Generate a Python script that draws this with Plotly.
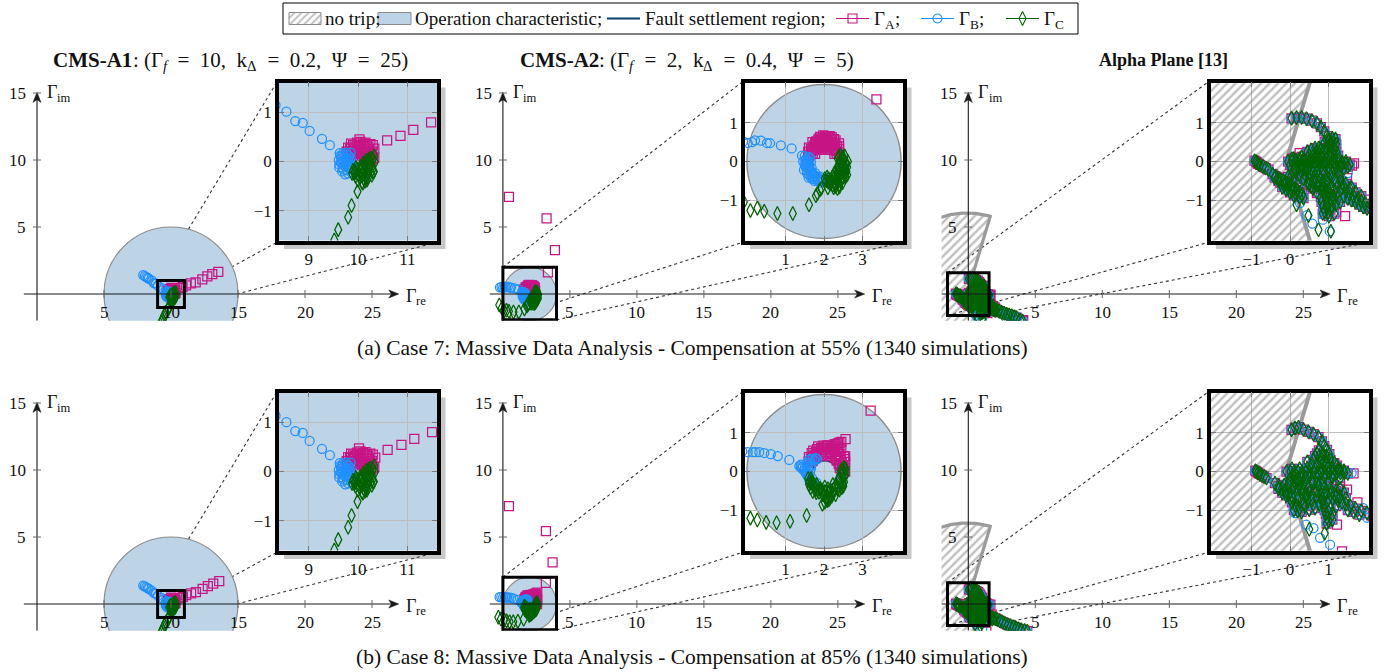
import numpy as np
import plotly.graph_objects as go

W, H = 1385, 672
PX = 13.4          # pixels per unit on the overview panels
ROW_SHIFT = 310    # vertical offset of the second row (px)

MAGENTA = "#C71585"
BLUE = "#1E90FF"
GREEN = "#006400"
NAVY = "#0B3C6E"
CHAR_FILL = "#BDD4E7"
CHAR_EDGE = "#8C8C8C"
HATCH = "#7F7F7F"
SERIF = "Liberation Serif"
INK = "#111"

# ---------------------------------------------------------------- data
MAIN_XTICKS = [5, 10, 15, 20, 25]
MAIN_YTICKS = [5, 10, 15]

# CMS-A1, case 7
A1_C7_GA = [(13.53, 1.66), (13.08, 1.49), (12.71, 1.32), (12.34, 1.10), (11.84, 0.87), (11.48, 0.79),
            (11.12, 0.64), (10.86, 0.52), (10.59, 0.43), (10.33, 0.26), (10.03, 0.45),
            (10.16, 0.02), (10.14, 0.10), (10.10, 0.16), (10.03, 0.19), (9.95, 0.20), (9.88, 0.17), (9.82, 0.11),
            (10.26, 0.02), (10.24, 0.12), (10.19, 0.20), (10.12, 0.26), (10.03, 0.30), (9.93, 0.30), (9.84, 0.26),
            (9.77, 0.20), (10.33, 0.08), (10.29, 0.20), (10.21, 0.30), (10.10, 0.36), (9.98, 0.38), (9.86, 0.36),
            (10.30, 0.33), (10.18, 0.34), (10.06, 0.33), (9.92, 0.24), (10.22, 0.25),
            (10.12, 0.04), (10.08, 0.12), (10.00, 0.16), (9.92, 0.15), (9.86, 0.09), (10.20, 0.06), (10.16, 0.15),
            (10.09, 0.21), (9.98, 0.24), (9.87, 0.21), (9.80, 0.15), (10.30, 0.05), (10.27, 0.16), (10.21, 0.25),
            (10.12, 0.31), (10.01, 0.34), (9.90, 0.33), (9.80, 0.28), (10.05, 0.40), (10.15, 0.38), (10.25, 0.35)]
A1_C7_GB = [(7.93, 1.40), (8.04, 1.33), (8.15, 1.26), (8.26, 1.20), (8.33, 1.14), (8.55, 1.01), (8.73, 0.82),
            (8.88, 0.78), (9.02, 0.62), (9.27, 0.46), (9.43, 0.33), (9.63, 0.17), (9.61, 0.03), (9.62, -0.12),
            (9.66, 0.10), (9.82, 0.11), (9.80, 0.02), (9.82, -0.07), (9.89, -0.14), (9.72, 0.12), (9.70, 0.02),
            (9.72, -0.08), (9.78, -0.18), (9.88, -0.24), (9.66, 0.06), (9.66, -0.04), (9.70, -0.16), (9.76, 0.18),
            (9.75, -0.02), (9.77, 0.07), (9.80, -0.12), (9.85, 0.18),
            (9.85, 0.07), (9.84, 0.00), (9.87, -0.07), (9.79, 0.13), (9.76, 0.04), (9.77, -0.06), (9.84, -0.15),
            (9.69, 0.16), (9.66, -0.01), (9.69, -0.12), (9.80, -0.24), (9.64, 0.12), (9.62, -0.06), (9.68, -0.20),
            (9.74, -0.26)]
A1_C7_GC = [(9.30, -2.05), (9.38, -1.90), (9.45, -1.75), (9.52, -1.59), (9.60, -1.38), (9.80, -1.13),
            (9.87, -0.89), (9.99, -0.61), (9.98, -0.16), (10.07, -0.14), (10.14, -0.07), (10.16, 0.02),
            (9.88, -0.24), (10.00, -0.26), (10.12, -0.22), (10.21, -0.14), (10.26, -0.03), (10.26, 0.07),
            (10.04, -0.33), (10.19, -0.27), (10.29, -0.16), (10.34, -0.01), (10.33, 0.11), (10.12, -0.35),
            (10.18, -0.38), (10.08, -0.42), (9.90, -0.18), (10.31, -0.22), (10.22, 0.05), (10.05, -0.20),
            (9.94, -0.22), (10.15, -0.30), (10.23, -0.06),
            (9.96, -0.12), (10.05, -0.10), (10.11, -0.03), (9.94, -0.20), (10.04, -0.19), (10.12, -0.15),
            (10.18, -0.07), (10.20, 0.02), (9.95, -0.30), (10.09, -0.28), (10.21, -0.21), (10.28, -0.09),
            (10.30, 0.05), (10.00, -0.38), (10.10, -0.44), (10.20, -0.33), (10.28, -0.28), (10.32, -0.20),
            (10.14, -0.40)]

# CMS-A1, case 8
A1_C8_GA = [(13.60, 1.70), (13.15, 1.52), (12.75, 1.34), (12.36, 1.12), (11.86, 0.88), (11.50, 0.80),
            (11.14, 0.66), (10.88, 0.54), (10.60, 0.44), (10.35, 0.28), (10.02, 0.47),
            (10.16, 0.03), (10.14, 0.11), (10.10, 0.17), (10.03, 0.20), (9.95, 0.21), (9.88, 0.18), (9.82, 0.12),
            (10.26, 0.03), (10.24, 0.13), (10.19, 0.21), (10.12, 0.27), (10.03, 0.31), (9.93, 0.31), (9.84, 0.27),
            (9.77, 0.21), (10.33, 0.09), (10.29, 0.21), (10.21, 0.31), (10.10, 0.37), (9.98, 0.38), (9.86, 0.36),
            (10.30, 0.34), (10.18, 0.35), (10.06, 0.34), (9.92, 0.25), (10.22, 0.26),
            (10.12, 0.05), (10.08, 0.13), (10.00, 0.17), (9.92, 0.16), (9.86, 0.10), (10.20, 0.07), (10.16, 0.16),
            (10.09, 0.22), (9.98, 0.25), (9.87, 0.22), (9.80, 0.16), (10.30, 0.06), (10.27, 0.17), (10.21, 0.26),
            (10.12, 0.32), (10.01, 0.35), (9.90, 0.34), (9.80, 0.29), (10.05, 0.41), (10.15, 0.39), (10.25, 0.36)]
A1_C8_GB = [(7.93, 1.38), (8.04, 1.32), (8.15, 1.25), (8.26, 1.19), (8.33, 1.13), (8.55, 1.00), (8.73, 0.82),
            (8.88, 0.78), (9.02, 0.62), (9.27, 0.46), (9.43, 0.33), (9.63, 0.17), (9.61, 0.03), (9.62, -0.12),
            (9.66, 0.10), (9.82, 0.11), (9.80, 0.02), (9.82, -0.07), (9.89, -0.14), (9.72, 0.12), (9.70, 0.02),
            (9.72, -0.08), (9.78, -0.18), (9.88, -0.24), (9.66, 0.06), (9.66, -0.04), (9.70, -0.16), (9.76, 0.18),
            (9.75, -0.02), (9.77, 0.07), (9.80, -0.12), (9.85, 0.18),
            (9.85, 0.07), (9.84, 0.00), (9.87, -0.07), (9.79, 0.13), (9.76, 0.04), (9.77, -0.06), (9.84, -0.15),
            (9.69, 0.16), (9.66, -0.01), (9.69, -0.12), (9.80, -0.24), (9.64, 0.12), (9.62, -0.06), (9.68, -0.20),
            (9.74, -0.26)]
A1_C8_GC = [(9.30, -2.05), (9.38, -1.90), (9.45, -1.75), (9.52, -1.59), (9.60, -1.38), (9.80, -1.13),
            (9.87, -0.89), (9.99, -0.61), (9.98, -0.16), (10.07, -0.14), (10.14, -0.07), (10.16, 0.02),
            (9.88, -0.24), (10.00, -0.26), (10.12, -0.22), (10.21, -0.14), (10.26, -0.03), (10.26, 0.07),
            (10.04, -0.33), (10.19, -0.27), (10.29, -0.16), (10.34, -0.01), (10.33, 0.11), (10.12, -0.35),
            (10.18, -0.38), (10.08, -0.42), (9.90, -0.18), (10.31, -0.22), (10.22, 0.05), (10.05, -0.20),
            (9.94, -0.22), (10.15, -0.30), (10.23, -0.06),
            (9.96, -0.12), (10.05, -0.10), (10.11, -0.03), (9.94, -0.20), (10.04, -0.19), (10.12, -0.15),
            (10.18, -0.07), (10.20, 0.02), (9.95, -0.30), (10.09, -0.28), (10.21, -0.21), (10.28, -0.09),
            (10.30, 0.05), (10.00, -0.38), (10.10, -0.44), (10.20, -0.33), (10.28, -0.28), (10.32, -0.20),
            (10.14, -0.40)]

# CMS-A2, case 7
A2_C7_GA = [(0.45, 7.25), (3.26, 5.64), (3.88, 3.28), (3.36, 1.61),
            (2.33, 0.21), (2.22, 0.30), (2.09, 0.34), (1.95, 0.34), (1.82, 0.30), (1.71, 0.21),
            (2.39, 0.32), (2.24, 0.42), (2.07, 0.47), (1.89, 0.45), (1.72, 0.38), (1.59, 0.25),
            (2.39, 0.47), (2.19, 0.57), (2.02, 0.59), (1.85, 0.57), (1.70, 0.50), (2.10, 0.66),
            (1.98, 0.68), (2.20, 0.63), (1.90, 0.64), (2.30, 0.55), (2.15, 0.50), (1.80, 0.45), (2.00, 0.50),
            (2.40, 0.21), (2.28, 0.33), (2.14, 0.39), (1.98, 0.41), (1.83, 0.37), (1.69, 0.28), (1.60, 0.14),
            (2.39, 0.39), (2.22, 0.50), (1.97, 0.53), (1.77, 0.48), (1.61, 0.36), (2.27, 0.20), (2.11, 0.30),
            (1.93, 0.30), (1.77, 0.20), (2.05, 0.62), (2.15, 0.60), (1.95, 0.58),
            (2.31, 0.27), (2.25, 0.36), (2.17, 0.44), (2.05, 0.40), (1.90, 0.38), (1.78, 0.33), (1.66, 0.32),
            (1.65, 0.18), (2.34, 0.40), (2.28, 0.48), (2.10, 0.53), (1.92, 0.50), (1.85, 0.42), (1.75, 0.42),
            (2.00, 0.44), (2.12, 0.46), (2.26, 0.58), (2.07, 0.57), (1.93, 0.57), (1.80, 0.52), (2.15, 0.66),
            (2.03, 0.66), (1.88, 0.60)]
A2_C7_GB = [(-0.22, 0.50), (-0.10, 0.52), (0.02, 0.48), (0.13, 0.50), (0.21, 0.55), (0.36, 0.54),
            (0.52, 0.48), (0.60, 0.48), (0.88, 0.42), (1.16, 0.34), (1.43, 0.15),
            (1.64, 0.09), (1.62, -0.08), (1.67, -0.25), (1.79, -0.38), (1.95, -0.44), (1.54, 0.08),
            (1.53, -0.14), (1.61, -0.34), (1.77, -0.46), (1.98, -0.50), (1.46, 0.00), (1.48, -0.22),
            (1.60, -0.42), (1.84, -0.50), (1.57, -0.05), (1.70, -0.40), (1.88, -0.47), (1.55, -0.22),
            (1.58, 0.03), (1.59, -0.17), (1.68, -0.34), (1.83, -0.46), (1.66, -0.02), (1.68, -0.17),
            (1.77, -0.30), (1.90, -0.39), (1.50, -0.10), (1.52, 0.03), (1.70, -0.45),
            (1.58, -0.12), (1.63, -0.22), (1.72, -0.32), (1.85, -0.42), (1.93, -0.50), (1.52, -0.05),
            (1.56, -0.30), (1.65, -0.40), (1.75, -0.50), (1.90, -0.55), (1.60, 0.12), (1.50, 0.14), (1.55, 0.00)]
A2_C7_GC = [(2.35, -0.70), (2.10, -0.68), (1.93, -0.70), (1.89, -0.74), (1.83, -0.83), (1.79, -0.89),
            (1.61, -1.12), (1.19, -1.35), (0.79, -1.35), (0.45, -1.29), (0.27, -1.21), (0.09, -1.27),
            (-0.08, -1.05), (-0.27, -0.82),
            (2.02, -0.45), (2.22, -0.40), (2.37, -0.25), (2.42, -0.05), (2.38, 0.12), (2.11, -0.54),
            (2.31, -0.46), (2.45, -0.30), (2.52, -0.09), (2.49, 0.12), (2.23, -0.61), (2.44, -0.47),
            (2.58, -0.26), (2.62, 0.00), (2.30, -0.55), (2.50, -0.40), (2.55, -0.15), (2.15, -0.50),
            (2.40, -0.60),
            (2.06, -0.50), (2.25, -0.44), (2.39, -0.31), (2.46, -0.13), (2.45, 0.07), (2.16, -0.58),
            (2.37, -0.47), (2.52, -0.28), (2.57, -0.05), (2.54, 0.14), (2.08, -0.40), (2.27, -0.30),
            (2.37, -0.11), (2.36, 0.07), (2.40, -0.66), (2.30, -0.65), (2.48, -0.55), (2.60, -0.15),
            (2.60, -0.35),
            (2.12, -0.45), (2.20, -0.52), (2.33, -0.38), (2.40, -0.40), (2.45, -0.20), (2.50, -0.22),
            (2.43, 0.00), (2.50, 0.04), (2.42, 0.16), (2.28, -0.58), (2.36, -0.55), (2.55, -0.40),
            (2.25, -0.68), (2.55, -0.32), (2.58, -0.05), (2.34, -0.22)]

# CMS-A2, case 8
A2_C8_GA = [(0.45, 7.30), (3.21, 5.44), (3.71, 3.11), (3.21, 1.58),
            (2.28, 0.71), (2.36, 0.73), (2.45, 0.77), (2.56, 0.84),
            (2.41, 0.16), (2.32, 0.32), (2.16, 0.41), (1.98, 0.44), (1.81, 0.38), (1.68, 0.26),
            (2.54, 0.16), (2.43, 0.37), (2.25, 0.51), (2.02, 0.56), (1.79, 0.51), (1.61, 0.37),
            (2.55, 0.39), (2.35, 0.58), (2.08, 0.67), (1.85, 0.65), (2.20, 0.66), (2.45, 0.60),
            (1.95, 0.62), (2.48, 0.05), (2.55, 0.00),
            (2.46, 0.22), (2.33, 0.39), (2.14, 0.48), (1.94, 0.49), (1.74, 0.41), (1.60, 0.26), (2.54, 0.32),
            (2.36, 0.51), (2.12, 0.61), (1.92, 0.61), (1.72, 0.54), (2.41, 0.09), (2.33, 0.28), (2.16, 0.40),
            (1.88, 0.40), (1.71, 0.28), (2.50, 0.08), (2.55, 0.25), (2.32, 0.68), (2.40, 0.75),
            (2.38, 0.20), (2.28, 0.36), (2.20, 0.45), (2.06, 0.50), (1.86, 0.46), (1.78, 0.43), (1.66, 0.33),
            (2.44, 0.30), (2.40, 0.45), (2.28, 0.56), (2.18, 0.56), (2.00, 0.61), (1.82, 0.58), (1.68, 0.48),
            (2.50, 0.15), (2.52, 0.40), (2.40, 0.62), (2.26, 0.66), (2.10, 0.68), (1.98, 0.67)]
A2_C8_GB = [(-0.25, 0.52), (-0.12, 0.52), (0.02, 0.50), (0.15, 0.50), (0.22, 0.50), (0.32, 0.50),
            (0.45, 0.48), (0.62, 0.45), (0.80, 0.40), (1.10, 0.30),
            (1.36, 0.14), (1.42, 0.08), (1.48, 0.02), (1.53, -0.05), (1.58, -0.12), (1.62, -0.20), (1.40, 0.18),
            (1.75, 0.29), (1.66, 0.15), (1.64, -0.01), (1.69, -0.17), (1.80, -0.29), (1.65, 0.33),
            (1.56, 0.14), (1.55, -0.06), (1.63, -0.26), (1.78, -0.36), (1.82, 0.32), (1.72, -0.36), (1.50, 0.10),
            (1.65, 0.24), (1.59, 0.06), (1.62, -0.13), (1.72, -0.28), (1.45, 0.12), (1.55, -0.08), (1.60, -0.16),
            (1.70, 0.33), (1.78, 0.35), (1.68, -0.33),
            (1.60, 0.30), (1.66, 0.08), (1.58, -0.05), (1.65, -0.22), (1.75, -0.32), (1.50, 0.04), (1.40, 0.12),
            (1.56, 0.22)]
A2_C8_GC = [(1.66, -0.19), (1.81, -0.34), (2.02, -0.40), (2.23, -0.34), (2.38, -0.19), (2.44, 0.02),
            (1.61, -0.33), (1.79, -0.47), (2.02, -0.52), (2.25, -0.47), (2.43, -0.33), (2.54, -0.12),
            (2.56, 0.07), (1.71, -0.52), (1.97, -0.60), (2.23, -0.56), (2.46, -0.42),
            (2.15, -0.70), (2.08, -0.76), (2.02, -0.80), (1.96, -0.85), (2.47, 0.06), (2.50, -0.02),
            (1.55, -1.14), (1.12, -1.29), (0.77, -1.33), (0.50, -1.32), (0.27, -1.26), (0.09, -1.21),
            (-0.15, -1.12), (-0.34, -0.99),
            (1.59, -0.18), (1.71, -0.35), (1.90, -0.44), (2.10, -0.45), (2.30, -0.37), (2.44, -0.22),
            (2.50, -0.02), (1.65, -0.42), (1.87, -0.54), (2.12, -0.55), (2.35, -0.46), (2.52, -0.27),
            (2.08, -0.66), (2.20, -0.64), (2.30, -0.60), (2.56, -0.05), (2.52, 0.10),
            (1.68, -0.28), (1.78, -0.40), (1.95, -0.48), (2.16, -0.50), (2.33, -0.42), (2.48, -0.30),
            (2.52, -0.12), (1.80, -0.55), (1.95, -0.56), (2.15, -0.62), (2.40, -0.48), (2.50, -0.38),
            (2.47, -0.10), (1.62, -0.26), (2.05, -0.70), (2.12, -0.74)]

# Alpha plane, case 7: trajectories shared by the three phases, plus phase-specific points
ALPHA_C7_SHARED = [
    (0.04, 1.12), (0.17, 1.14), (0.30, 1.14), (0.43, 1.11), (0.57, 1.06), (0.70, 0.99), (0.80, 0.89),
    (0.89, 0.78), (0.96, 0.66), (1.03, 0.56), (1.09, 0.43), (1.15, 0.30),
    (-0.92, 0.02), (-0.88, 0.00), (-0.85, -0.03), (-0.82, -0.06), (-0.78, -0.09), (-0.70, -0.13),
    (-0.63, -0.17), (-0.56, -0.21),
    (-0.45, -0.33), (-0.38, -0.38), (-0.31, -0.42), (-0.24, -0.47), (-0.17, -0.51), (-0.10, -0.56),
    (-0.03, -0.60), (0.04, -0.65), (0.11, -0.70), (0.18, -0.75), (0.25, -0.80), (0.32, -0.85),
    (-0.25, -0.55), (-0.15, -0.62), (-0.05, -0.69), (0.05, -0.76), (0.15, -0.84), (0.00, -0.45),
    (0.10, -0.52), (0.20, -0.60),
    (-0.40, -0.42), (-0.30, -0.50), (-0.20, -0.66), (-0.10, -0.72), (0.00, -0.80), (0.10, -0.88),
    (0.25, -0.92), (0.35, -0.95),
    (-0.05, 0.00), (0.05, 0.00), (0.15, -0.01), (0.25, -0.01), (0.35, -0.02), (0.45, -0.02), (0.55, -0.03),
    (0.65, -0.03), (0.75, -0.04), (0.85, -0.04), (0.95, -0.05), (1.05, -0.05), (1.15, -0.06), (1.25, -0.06),
    (1.35, -0.07), (1.45, -0.07), (1.55, -0.08),
    (0.00, -0.09), (0.20, -0.10), (0.40, -0.11), (0.60, -0.12), (0.80, -0.13), (1.00, -0.14), (1.20, -0.15),
    (1.40, -0.16),
    (0.05, 0.07), (0.25, 0.07), (0.45, 0.08), (0.65, 0.10), (0.85, 0.10), (1.05, 0.08), (1.25, 0.04),
    (1.45, 0.00), (0.15, 0.04), (0.35, 0.04), (0.55, 0.04), (0.75, 0.05), (0.95, 0.04), (1.15, 0.00),
    (1.35, -0.02),
    (0.10, 0.08), (0.30, 0.12), (0.50, 0.16), (0.70, 0.20), (0.85, 0.20), (0.95, 0.25), (1.05, 0.30),
    (1.15, 0.35), (1.20, 0.45), (1.12, 0.50), (1.05, 0.42), (0.95, 0.35), (1.00, 0.15), (1.10, 0.20),
    (1.20, 0.25), (0.75, 0.10), (0.55, 0.07), (0.35, 0.05),
    (0.45, 0.25), (0.55, 0.30), (0.65, 0.35), (0.75, 0.35), (0.85, 0.40), (0.90, 0.50), (1.00, 0.55),
    (1.10, 0.60), (1.18, 0.58),
    (0.60, 0.15), (0.80, 0.15), (0.90, 0.30), (1.00, 0.38), (1.10, 0.45), (1.15, 0.12), (1.25, 0.15),
    (0.70, 0.30), (0.80, 0.30),
    (0.20, -0.18), (0.30, -0.27), (0.40, -0.36), (0.50, -0.45), (0.60, -0.53), (0.70, -0.62), (0.80, -0.71),
    (0.30, -0.15), (0.45, -0.22), (0.60, -0.30), (0.75, -0.38), (0.55, -0.18), (0.70, -0.25), (0.90, -0.30),
    (1.05, -0.38), (0.85, -0.50), (1.00, -0.55), (1.10, -0.28), (1.15, -0.45), (1.20, -0.55),
    (0.15, -0.25), (0.25, -0.35), (0.35, -0.45), (0.45, -0.55), (0.55, -0.65), (0.40, -0.20), (0.50, -0.30),
    (0.65, -0.40), (0.80, -0.45), (0.95, -0.48), (0.85, -0.25), (1.00, -0.25), (1.15, -0.20), (1.25, -0.30),
    (1.30, -0.40), (1.35, -0.55), (1.40, -0.65), (0.05, -0.35), (-0.05, -0.40), (0.10, -0.20), (0.30, -0.05),
    (0.50, -0.08), (0.70, -0.08), (0.90, -0.09), (1.10, -0.10), (1.30, -0.11), (1.50, -0.13),
    (0.50, -0.60), (0.60, -0.70), (0.70, -0.80), (0.65, -0.50), (0.75, -0.55), (0.95, -0.65), (1.05, -0.70),
    (1.15, -0.75), (1.20, -0.85), (1.25, -0.95), (1.30, -1.05), (1.10, -0.90), (1.00, -0.85),
    (0.85, -0.62), (0.87, -0.72), (0.89, -0.82), (0.91, -0.92), (0.93, -1.02), (0.95, -1.12), (0.97, -1.22),
    (0.99, -1.32), (1.01, -1.42), (0.80, -0.92), (0.82, -1.05), (0.86, -1.18), (1.06, -1.00), (1.10, -1.18),
    (0.90, -1.30), (0.95, -0.75), (1.05, -0.85), (1.15, -0.95), (1.20, -1.10), (1.15, -1.35), (1.05, -1.25),
    (0.85, -1.35),
    (1.25, -0.62), (1.35, -0.69), (1.45, -0.76), (1.55, -0.83), (1.65, -0.90), (1.75, -0.97), (1.85, -1.04),
    (1.95, -1.10), (2.05, -1.16), (1.30, -0.50), (1.45, -0.58), (1.60, -0.68),
    (1.40, -0.90), (1.50, -0.95), (1.60, -1.00), (1.70, -1.05), (1.80, -1.12), (1.90, -1.18), (2.00, -1.22),
    (1.55, -0.70), (1.70, -0.80), (1.85, -0.90),
    (2.12, -1.19), (2.30, -1.28), (2.49, -1.37), (2.68, -1.44), (2.87, -1.51), (3.05, -1.57), (3.24, -1.62),
    (3.42, -1.70), (3.61, -1.77), (3.86, -1.94), (4.05, -2.02)]
ALPHA_C7_GA_ONLY = [(1.61, -0.11), (1.48, -0.43), (1.39, -0.86), (1.74, -0.90), (1.96, -0.99), (1.43, -1.42),
                    (0.70, -0.82), (2.05, -1.22), (0.25, 0.22), (1.66, -0.05), (1.20, -1.30), (4.10, -1.95)]
ALPHA_C7_GB_ONLY = [(1.22, -0.39), (0.26, -1.08), (0.43, -1.40), (0.58, -1.61), (0.85, -1.51), (1.03, -1.81),
                    (1.96, -1.12), (2.87, -1.94), (3.61, -1.69), (1.50, -0.30)]
ALPHA_C7_GC_ONLY = [(0.48, -1.40), (0.74, -1.77), (1.06, -1.81), (0.17, -1.12)]

# Alpha plane, case 8
ALPHA_C8_SHARED = [
    (0.04, 1.08), (0.13, 1.13), (0.22, 1.15), (0.35, 1.09), (0.48, 1.03), (0.61, 0.97), (0.74, 0.89),
    (0.83, 0.78), (0.89, 0.66), (0.96, 0.56), (1.02, 0.45),
    (-0.90, 0.02), (-0.87, 0.00), (-0.83, -0.03), (-0.79, -0.06), (-0.74, -0.09), (-0.67, -0.13), (-0.61, -0.17),
    (-0.39, -0.30), (-0.30, -0.37), (-0.21, -0.44), (-0.12, -0.51), (-0.03, -0.58), (0.06, -0.65), (0.09, -0.73),
    (0.00, -0.30), (0.10, -0.38), (0.20, -0.46), (0.30, -0.54), (0.40, -0.62), (0.45, -0.75), (0.35, -0.85),
    (0.25, -0.95), (0.15, -0.88), (0.05, -0.80), (0.20, -0.20), (0.35, -0.30), (0.50, -0.40), (0.10, -1.00),
    (0.30, -1.05), (0.50, -0.99),
    (-0.30, -0.45), (-0.20, -0.55), (-0.10, -0.62), (0.00, -0.70), (0.00, -0.20), (0.10, -0.25), (0.30, -0.42),
    (0.20, -0.70), (0.30, -0.75), (0.40, -0.90), (0.20, -1.02),
    (0.15, -0.30), (0.25, -0.40), (0.35, -0.50), (0.45, -0.60), (0.55, -0.70), (0.60, -0.85), (0.65, -0.95),
    (0.40, -0.15), (0.55, -0.25), (0.70, -0.30), (0.85, -0.30), (1.00, -0.30), (1.15, -0.35), (1.30, -0.45),
    (1.40, -0.55), (1.45, -0.70), (0.10, -0.15), (-0.05, -0.35), (-0.15, -0.35), (0.30, -0.20), (0.50, -0.55),
    (0.70, -0.50), (0.90, -0.60), (1.05, -0.60), (1.20, -0.65), (1.30, -0.65),
    (-0.09, 0.00), (0.01, 0.00), (0.11, 0.00), (0.21, -0.01), (0.31, -0.01), (0.41, -0.02), (0.51, -0.02),
    (0.61, -0.02), (0.71, -0.03), (0.81, -0.03), (0.91, -0.03), (1.01, -0.04), (1.11, -0.04), (1.21, -0.04),
    (1.31, -0.04), (1.41, -0.04), (1.50, -0.05), (0.10, -0.10), (0.30, -0.10), (0.50, -0.12), (0.70, -0.13),
    (0.90, -0.14), (1.10, -0.15), (1.30, -0.16),
    (0.05, 0.07), (0.25, 0.07), (0.45, 0.08), (0.65, 0.07), (0.85, 0.06), (1.05, 0.04), (1.25, 0.03),
    (1.40, 0.02), (0.90, 0.10), (1.10, 0.10), (1.30, 0.05),
    (0.70, 0.47), (0.76, 0.40), (0.82, 0.33), (0.88, 0.26), (0.94, 0.19), (1.00, 0.12), (1.06, 0.05),
    (0.85, 0.45), (0.95, 0.38), (1.05, 0.30), (1.15, 0.22), (1.22, 0.15), (0.55, 0.15), (0.45, 0.25),
    (0.60, 0.30), (0.75, 0.55), (0.80, 0.25), (0.70, 0.20), (0.65, 0.40),
    (0.80, -0.60), (0.83, -0.70), (0.85, -0.80), (0.87, -0.90), (0.90, -1.00), (0.93, -1.10), (0.96, -1.20),
    (1.00, -1.29), (1.05, -0.95), (1.10, -1.10), (0.75, -0.85), (1.00, -1.05), (1.10, -1.25), (0.95, -1.35),
    (0.60, -0.30), (0.75, -0.35), (0.90, -0.40), (1.05, -0.45), (1.20, -0.50), (1.10, -0.70), (1.25, -0.75),
    (0.65, -0.50), (0.80, -0.45), (0.95, -0.55), (1.00, -0.70), (0.70, -0.65), (1.15, -0.60), (1.20, -0.90),
    (1.35, -0.80), (1.45, -0.85), (1.57, -0.90), (1.70, -0.96), (1.85, -1.02), (2.00, -1.08),
    (1.50, -1.00), (1.65, -1.05), (1.80, -1.12),
    (2.15, -1.15), (2.35, -1.25), (2.55, -1.35), (2.75, -1.45), (2.95, -1.55), (3.15, -1.62), (3.35, -1.70),
    (3.55, -1.78), (3.75, -1.85), (3.95, -1.92), (4.20, -1.98), (4.40, -2.03)]
ALPHA_C8_GA_ONLY = [(1.48, -0.47), (1.22, -1.38), (1.35, -2.07), (1.65, -0.05), (0.40, -0.50), (1.30, -0.40),
                    (1.75, -0.80)]
ALPHA_C8_GB_ONLY = [(1.60, -0.04), (0.13, -1.08), (0.42, -1.38), (0.61, -1.47), (0.78, -1.72), (1.04, -1.90),
                    (1.90, -0.95), (2.00, -1.20)]
ALPHA_C8_GC_ONLY = [(0.50, -1.50), (0.90, -1.60)]

# Operation characteristics
A1_CIRCLE = (10.0, 0.0, 5.0)       # centre re, centre im, radius
A2_CIRCLE = (2.0, 0.0, 2.0)
A1_SETTLE = (9.97, 0.01, 0.10)     # fault settlement region
A2_SETTLE = (2.02, -0.05, 0.33)
ALPHA_VERTEX = -0.1                # no-trip sector of the alpha plane
ALPHA_RADIUS = 6.05
ALPHA_HALF_OPEN = 73.3             # degrees

SP = "\u2002"
# title pieces: (text, style, subscript)
TITLES = [
    [("CMS-A1", "bold", False), (": (Γ", "reg", False), ("f", "italic", True),
     (f"{SP}={SP}10,{SP}k", "reg", False), ("Δ", "reg", True), (f"{SP}={SP}0.2,{SP}Ψ{SP}={SP}25)", "reg", False)],
    [("CMS-A2", "bold", False), (": (Γ", "reg", False), ("f", "italic", True),
     (f"{SP}={SP}2,{SP}k", "reg", False), ("Δ", "reg", True), (f"{SP}={SP}0.4,{SP}Ψ{SP}={SP}5)", "reg", False)],
    [("Alpha Plane [13]", "bold", False)],
]
CAPTIONS = ["(a) Case 7: Massive Data Analysis - Compensation at 55% (1340 simulations)",
            "(b) Case 8: Massive Data Analysis - Compensation at 85% (1340 simulations)"]

# ---------------------------------------------------------------- text metrics (Times-compatible, 1/1000 em)
ADV = {"reg": {" ": 250, "(": 333, ")": 333, ",": 250, ".": 250, ":": 278, ";": 278, "=": 564, "k": 500,
               "f": 333, "i": 278, "m": 778, "r": 333, "e": 444, "A": 722, "B": 667, "C": 667,
               "Γ": 578, "Δ": 651, "Ψ": 770, SP: 500},
       "bold": {" ": 250, "C": 722, "M": 944, "S": 556, "-": 333, "A": 722, "l": 278, "p": 556, "h": 556,
                "a": 500, "P": 611, "n": 556, "e": 444, "[": 333, "]": 333},
       "italic": {"f": 278}}


def text_width(s, size, style):
    return sum(ADV[style].get(ch, ADV["reg"].get(ch, 500)) for ch in s) * size / 1000.0


def add_rich(xref, yref, x, y, pieces, size, anchor="left", xshift=0.0, yshift=0.0, color=INK):
    sub = 0.7
    widths = [text_width(t, size * (sub if s else 1), st) for t, st, s in pieces]
    start = -sum(widths) / 2 if anchor == "center" else 0.0
    pos = start
    for (t, st, s), w in zip(pieces, widths):
        txt = f"<b>{t}</b>" if st == "bold" else (f"<i>{t}</i>" if st == "italic" else t)
        annotations.append(dict(xref=xref, yref=yref, x=x, y=y, xanchor="left", yanchor="middle", text=txt,
                                showarrow=False, xshift=xshift + pos, yshift=yshift - (0.3 * size if s else 0),
                                font=dict(family=SERIF, size=size * (sub if s else 1), color=color)))
        pos += w


# ---------------------------------------------------------------- layout of panels
COLS = [
    dict(ox=37.0, xmin=-1.0, kind="circle", circ=A1_CIRCLE, settle=A1_SETTLE, box=(9, 11, -1, 1),
         ix=279, irange=([8.4, 11.6], [-1.6, 1.6]), itx=[9, 10, 11], ity=[-1, 0, 1]),
    dict(ox=502.9, xmin=-1.0, kind="circle", circ=A2_CIRCLE, settle=A2_SETTLE, box=(0, 4, -1.93, 2),
         ix=745, irange=([-0.05, 4.05], [-2.05, 2.05]), itx=[1, 2, 3], ity=[-1, 0, 1]),
    dict(ox=968.3, xmin=-2.0, kind="alpha", box=(-1.55, 1.55, -1.6, 1.58),
         ix=1211, irange=([-2.05, 2.05], [-2.05, 2.05]), itx=[-1, 0, 1], ity=[-1, 0, 1]),
]
ROWS = [
    dict(oy=294.0, series=[(A1_C7_GA, A1_C7_GB, A1_C7_GC), (A2_C7_GA, A2_C7_GB, A2_C7_GC),
                           (ALPHA_C7_SHARED + ALPHA_C7_GA_ONLY, ALPHA_C7_SHARED + ALPHA_C7_GB_ONLY,
                            ALPHA_C7_SHARED + ALPHA_C7_GC_ONLY)]),
    dict(oy=294.0 + ROW_SHIFT, series=[(A1_C8_GA, A1_C8_GB, A1_C8_GC), (A2_C8_GA, A2_C8_GB, A2_C8_GC),
                                       (ALPHA_C8_SHARED + ALPHA_C8_GA_ONLY, ALPHA_C8_SHARED + ALPHA_C8_GB_ONLY,
                                        ALPHA_C8_SHARED + ALPHA_C8_GC_ONLY)]),
]
XMAX, YMIN, YMAX = 28.0, -2.0, 16.0
XTIP, YTIP = 27.0, 15.05
INSET_SIZE = 158.0
INSET_TOP = 82.5

STYLES = [("square-open", MAGENTA, 9), ("circle-open", BLUE, 9), ("diamond-tall-open", GREEN, 10)]


def dom_x(p0, p1):
    return [p0 / W, p1 / W]


def dom_y(top, bottom):
    return [1 - bottom / H, 1 - top / H]


fig = go.Figure()
layout_axes = {}
shapes, annotations = [], []
axis_count = [0]


def new_axes(xdom, ydom, xr, yr, xextra=None, yextra=None):
    axis_count[0] += 1
    n = axis_count[0]
    sfx = "" if n == 1 else str(n)
    xa = dict(domain=xdom, range=xr, anchor="y" + sfx, fixedrange=True)
    ya = dict(domain=ydom, range=yr, anchor="x" + sfx, fixedrange=True)
    xa.update(xextra or dict(visible=False))
    ya.update(yextra or dict(visible=False))
    layout_axes["xaxis" + sfx] = xa
    layout_axes["yaxis" + sfx] = ya
    return "x" + sfx, "y" + sfx


def add_series(xref, yref, trio):
    for pts, (sym, col, size) in zip(trio, STYLES):
        fig.add_trace(go.Scatter(
            x=[p[0] for p in pts], y=[p[1] for p in pts], xaxis=xref, yaxis=yref, mode="markers",
            marker=dict(symbol=sym, size=size, color=col, line=dict(width=1.25, color=col)),
            showlegend=False, hoverinfo="skip"))


def add_circle(xref, yref, circ, fill, line_col, width, layer):
    cx, cy, r = circ
    shapes.append(dict(type="circle", xref=xref, yref=yref, x0=cx - r, x1=cx + r, y0=cy - r, y1=cy + r,
                       fillcolor=fill, line=dict(color=line_col, width=width), layer=layer))


def add_no_trip(xref, yref, width):
    th = np.radians(np.linspace(ALPHA_HALF_OPEN, 360 - ALPHA_HALF_OPEN, 181))
    sx = [ALPHA_VERTEX] + list(ALPHA_VERTEX + ALPHA_RADIUS * np.cos(th)) + [ALPHA_VERTEX]
    sy = [0.0] + list(ALPHA_RADIUS * np.sin(th)) + [0.0]
    fig.add_trace(go.Scatter(
        x=sx, y=sy, xaxis=xref, yaxis=yref, mode="lines", fill="toself", fillcolor="rgba(0,0,0,0)",
        fillpattern=dict(shape="/", fgcolor=HATCH, bgcolor="rgba(0,0,0,0)", size=6, solidity=0.4),
        line=dict(color="#9A9A9A", width=width), showlegend=False, hoverinfo="skip"))


AX_COL = "#1a1a1a"
# pass 1: overview panels
for r, row in enumerate(ROWS):
    for c, col in enumerate(COLS):
        ox, oy = col["ox"], row["oy"]
        xdom = dom_x(ox + col["xmin"] * PX, ox + XMAX * PX)
        ydom = dom_y(oy - YMAX * PX, oy - YMIN * PX)
        xref, yref = new_axes(xdom, ydom, [col["xmin"], XMAX], [YMIN, YMAX])
        if col["kind"] == "circle":
            add_circle(xref, yref, col["circ"], CHAR_FILL, CHAR_EDGE, 1.2, "below")
        else:
            add_no_trip(xref, yref, 3.2)
        add_series(xref, yref, row["series"][c])
        # axis lines with arrow heads
        shapes.append(dict(type="line", xref=xref, yref=yref, x0=col["xmin"], x1=XTIP - 0.3, y0=0, y1=0,
                           line=dict(color=AX_COL, width=1.1), layer="above"))
        shapes.append(dict(type="line", xref=xref, yref=yref, x0=0, x1=0, y0=YMIN, y1=YTIP - 0.3,
                           line=dict(color=AX_COL, width=1.1), layer="above"))
        shapes.append(dict(type="path", xref=xref, yref=yref, layer="above", fillcolor=AX_COL,
                           line=dict(color=AX_COL, width=0.5),
                           path=f"M {XTIP},0 L {XTIP - 0.75},0.3 L {XTIP - 0.55},0 L {XTIP - 0.75},-0.3 Z"))
        shapes.append(dict(type="path", xref=xref, yref=yref, layer="above", fillcolor=AX_COL,
                           line=dict(color=AX_COL, width=0.5),
                           path=f"M 0,{YTIP} L 0.3,{YTIP - 0.75} L 0,{YTIP - 0.55} L -0.3,{YTIP - 0.75} Z"))
        for v in MAIN_XTICKS:
            shapes.append(dict(type="line", xref=xref, yref=yref, x0=v, x1=v, y0=-0.3, y1=0.3,
                               line=dict(color="#666", width=1), layer="above"))
            annotations.append(dict(xref=xref, yref=yref, x=v, y=0, yshift=-18, text=str(v), showarrow=False,
                                    font=dict(family=SERIF, size=17, color=INK)))
        for v in MAIN_YTICKS:
            shapes.append(dict(type="line", xref=xref, yref=yref, x0=-0.3, x1=0.3, y0=v, y1=v,
                               line=dict(color="#666", width=1), layer="above"))
            annotations.append(dict(xref=xref, yref=yref, x=0, y=v, xshift=-9, xanchor="right", text=str(v),
                                    showarrow=False, font=dict(family=SERIF, size=17, color=INK)))
        add_rich(xref, yref, 0, YTIP, [("Γ", "reg", False), ("im", "reg", True)], 18, xshift=8)
        add_rich(xref, yref, XTIP, 0, [("Γ", "reg", False), ("re", "reg", True)], 18, xshift=5, yshift=-2)
        # magnifier frame
        bx0, bx1, by0, by1 = col["box"]
        shapes.append(dict(type="rect", xref=xref, yref=yref, x0=bx0, x1=bx1, y0=by0, y1=by1,
                           line=dict(color="black", width=3), layer="above"))

# pass 2: magnified views
for r, row in enumerate(ROWS):
    for c, col in enumerate(COLS):
        ox, oy = col["ox"], row["oy"]
        L, T = col["ix"], INSET_TOP + r * ROW_SHIFT
        R, B = L + INSET_SIZE, T + INSET_SIZE
        xr, yr = col["irange"]
        tick_font = dict(family=SERIF, size=17, color=INK)
        common = dict(showgrid=True, gridcolor="#BDBDBD", gridwidth=1, zeroline=False, showline=True,
                      linecolor="black", linewidth=3.5, mirror="ticks", ticks="inside", ticklen=5,
                      tickcolor="#7a7a7a", tickwidth=1.2, tickfont=tick_font)
        xe = dict(common, tickvals=col["itx"], ticktext=[str(v).replace("-", "−") for v in col["itx"]])
        ye = dict(common, tickvals=col["ity"], ticktext=[str(v).replace("-", "−") for v in col["ity"]])
        xref, yref = new_axes(dom_x(L, R), dom_y(T, B), xr, yr, xe, ye)
        if col["kind"] == "circle":
            add_circle(xref, yref, col["circ"], CHAR_FILL, CHAR_EDGE, 1.5, "below")
            add_circle(xref, yref, col["settle"], "rgba(0,0,0,0)", NAVY, 1.5, "between")
        else:
            add_no_trip(xref, yref, 4)
        add_series(xref, yref, row["series"][c])

        # drop shadow of the magnified view
        e = 3.5
        sh = 5
        path = (f"M {(R + e) / W},{1 - (T + sh) / H} L {(R + e + sh) / W},{1 - (T + sh) / H} "
                f"L {(R + e + sh) / W},{1 - (B + e + sh) / H} L {(L + sh) / W},{1 - (B + e + sh) / H} "
                f"L {(L + sh) / W},{1 - (B + e) / H} L {(R + e) / W},{1 - (B + e) / H} Z")
        shapes.append(dict(type="path", xref="paper", yref="paper", path=path,
                           fillcolor="rgba(0,0,0,0.22)", line=dict(width=0), layer="below"))

        # connectors from the overview frame to the magnified view
        bx0, bx1, by0, by1 = col["box"]

        def to_px(x, y):
            return ox + x * PX, oy - y * PX
        pairs = [(to_px(bx0, by1), (L - 1.5, T - 1.5)),
                 (to_px(bx0, by0), (L - 1.5, B + 1.5)),
                 (to_px(bx1, by0), (R + 1.5, B + 1.5))]
        for (x0, y0), (x1, y1) in pairs:
            shapes.append(dict(type="line", xref="paper", yref="paper", x0=x0 / W, y0=1 - y0 / H,
                               x1=x1 / W, y1=1 - y1 / H, line=dict(color="#333", width=1.1, dash="dot"),
                               layer="below"))

# legend drawn on its own pixel-scaled axes
LEG_L, LEG_R, LEG_T, LEG_B = 283, 1078, 3, 34
lx, ly = new_axes(dom_x(LEG_L, LEG_R), dom_y(LEG_T, LEG_B), [LEG_L, LEG_R], [LEG_B, LEG_T])
shapes.append(dict(type="rect", xref="paper", yref="paper", x0=LEG_L / W, x1=LEG_R / W,
                   y0=1 - LEG_B / H, y1=1 - LEG_T / H, line=dict(color="black", width=1), layer="above"))
MID = 18.5
fig.add_trace(go.Scatter(x=[289, 321, 321, 289, 289], y=[12.5, 12.5, 24.5, 24.5, 12.5], xaxis=lx, yaxis=ly,
                         mode="lines", fill="toself", fillcolor="rgba(0,0,0,0)",
                         fillpattern=dict(shape="/", fgcolor=HATCH, bgcolor="rgba(0,0,0,0)", size=5, solidity=0.38),
                         line=dict(color="#8C8C8C", width=1), showlegend=False, hoverinfo="skip"))
fig.add_trace(go.Scatter(x=[378, 411, 411, 378, 378], y=[12.5, 12.5, 24.5, 24.5, 12.5], xaxis=lx, yaxis=ly,
                         mode="lines", fill="toself", fillcolor=CHAR_FILL, line=dict(color="#8C8C8C", width=1),
                         showlegend=False, hoverinfo="skip"))
fig.add_trace(go.Scatter(x=[607, 640], y=[MID, MID], xaxis=lx, yaxis=ly, mode="lines",
                         line=dict(color=NAVY, width=2), showlegend=False, hoverinfo="skip"))
LEG_MARKS = [(836, 0, "A", ";"), (921, 1, "B", ";"), (1006, 2, "C", "")]
for x0, k, phase, tail in LEG_MARKS:
    sym, colr, size = STYLES[k]
    fig.add_trace(go.Scatter(x=[x0, x0 + 33], y=[MID, MID], xaxis=lx, yaxis=ly, mode="lines",
                             line=dict(color=colr, width=1.1), showlegend=False, hoverinfo="skip"))
    fig.add_trace(go.Scatter(x=[x0 + 16.5], y=[MID], xaxis=lx, yaxis=ly, mode="markers",
                             marker=dict(symbol=sym, size=size, color=colr, line=dict(width=1.1, color=colr)),
                             showlegend=False, hoverinfo="skip"))
    pieces = [("Γ", "reg", False), (phase, "reg", True)] + ([(tail, "reg", False)] if tail else [])
    add_rich(lx, ly, x0 + 36, MID, pieces, 19)
LEG_TEXT = [(323, "no trip;"), (413, "Operation characteristic;"), (643, "Fault settlement region;")]
for x0, t in LEG_TEXT:
    annotations.append(dict(xref=lx, yref=ly, x=x0, y=MID, xanchor="left", yanchor="middle", text=t,
                            showarrow=False, font=dict(family=SERIF, size=19, color=INK)))

# panel titles and sub-captions
for (cx, size, pieces) in zip([229, 685, 1162], [21, 21, 18], TITLES):
    add_rich("paper", "paper", cx / W, 1 - 60 / H, pieces, size, anchor="center")
for (cy, t) in zip([348, 657], CAPTIONS):
    annotations.append(dict(xref="paper", yref="paper", x=692 / W, y=1 - cy / H, text=t, showarrow=False,
                            xanchor="center", yanchor="middle", font=dict(family=SERIF, size=21.5, color=INK)))

fig.update_layout(width=W, height=H, margin=dict(l=0, r=0, t=0, b=0), paper_bgcolor="white",
                  plot_bgcolor="white", showlegend=False, shapes=shapes, annotations=annotations,
                  **layout_axes)
fig.write_html("out.html")
